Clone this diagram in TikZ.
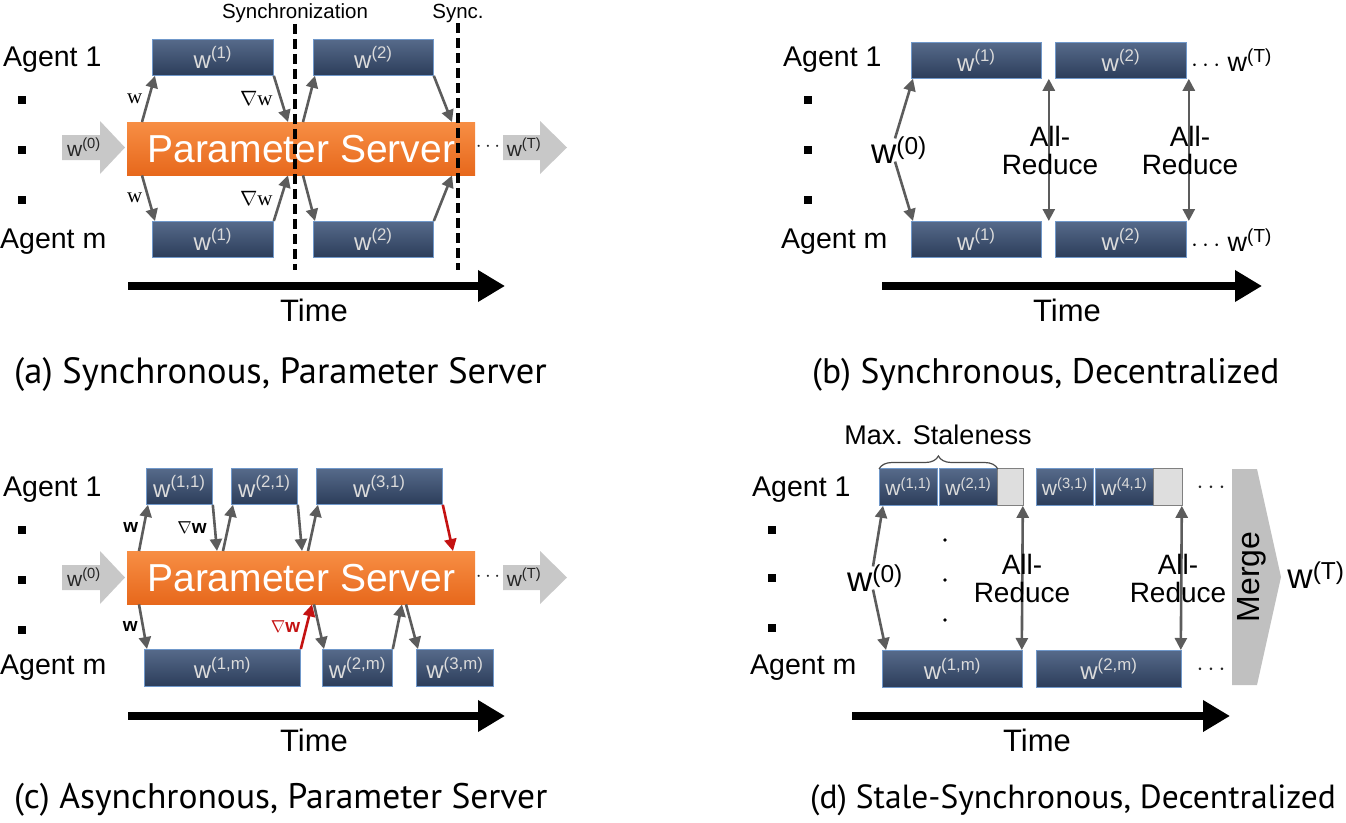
\documentclass[tikz,border=0pt]{standalone}
\usepackage{fontspec}
\setmainfont{Liberation Sans}
\newfontfamily\capfont{PT Sans}
\newfontfamily\gradfont{Liberation Serif}
\usetikzlibrary{arrows.meta,decorations.pathreplacing,positioning}

\definecolor{boxtop}{RGB}{86,106,138}
\definecolor{boxbot}{RGB}{44,61,90}
\definecolor{boxedge}{RGB}{112,152,202}
\definecolor{pstop}{RGB}{247,142,68}
\definecolor{psbot}{RGB}{231,104,28}
\definecolor{flowgray}{RGB}{92,92,92}
\definecolor{flowred}{RGB}{196,18,18}
\definecolor{arrowgray}{RGB}{200,200,200}
\definecolor{stalegray}{RGB}{222,222,222}
\definecolor{mergegray}{RGB}{192,192,192}

\newcommand{\fsz}[1]{\fontsize{#1}{#1}\selectfont}

\tikzset{
  wbox/.style={rectangle, anchor=north west, top color=boxtop, bottom color=boxbot,
    draw=boxedge, line width=0.8pt, text=white!86!black, font=\fsz{24},
    minimum height=36pt, inner sep=0pt},
  server/.style={rectangle, anchor=north west, top color=pstop, bottom color=psbot,
    text=white, font=\fsz{39}, minimum width=348pt, minimum height=53pt, inner sep=0pt},
  stale/.style={rectangle, anchor=north west, fill=stalegray, draw=gray,
    line width=0.8pt, minimum height=37pt, inner sep=0pt},
  agent/.style={anchor=west, font=\fsz{28.5}, inner sep=0pt},
  flow/.style={draw=flowgray, line width=2.6pt, -{Triangle[length=12pt,width=12pt]}},
  redflow/.style={flow, draw=flowred},
  duplex/.style={draw=flowgray, line width=2.6pt,
    {Triangle[length=12pt,width=12pt]}-{Triangle[length=12pt,width=12pt]}},
  timeline/.style={line width=7.5pt, -{Triangle[length=27pt,width=30pt]}},
  tlabel/.style={font=\fsz{31}, inner sep=0pt},
  caption/.style={anchor=west, font=\capfont\fsz{36.5}, inner sep=0pt},
  grad/.style={font=\gradfont\fsz{21}, inner sep=1pt},
  sgrad/.style={font=\bfseries\fsz{19}, inner sep=1pt},
  intext/.style={font=\fsz{21}, text=black!85, inner sep=0pt},
  bigw/.style={font=\fsz{35}, inner sep=0pt},
  reduce/.style={font=\fsz{28}, align=center, inner sep=0pt},
  dashline/.style={line width=3.2pt, dash pattern=on 10pt off 5pt},
}

\begin{document}
\begin{tikzpicture}[x=1pt,y=-1pt]
\useasboundingbox (0,0) rectangle (1346,822);

% (a) synchronous, parameter server
\node[agent] (a1) at (3,60) {Agent 1};
\node[agent] (am) at (0,242) {Agent m};
\foreach \yy in {100,150,200} \fill (18,\yy-4) rectangle ++(8,8);
\fill[arrowgray] (62,135) -- (100,135) -- (100,121) -- (125,147.5) -- (100,174) -- (100,160) -- (62,160) -- cycle;
\node[intext] (w0a) at (84,147) {w\textsuperscript{(0)}};
\node[server] (psa) at (127,122) {Parameter Server};
\node[intext] (dotsa) at (488,147) {$\cdots$};
\fill[arrowgray] (503,135) -- (540,135) -- (540,121) -- (567,147.5) -- (540,174) -- (540,160) -- (503,160) -- cycle;
\node[intext] (wTa) at (524,147) {w\textsuperscript{(T)}};

\node[wbox, minimum width=121pt] (at1) at (152,39) {w\textsuperscript{(1)}};
\node[wbox, minimum width=120pt] (at2) at (313,39) {w\textsuperscript{(2)}};
\node[wbox, minimum width=121pt] (ab1) at (152,221) {w\textsuperscript{(1)}};
\node[wbox, minimum width=120pt] (ab2) at (313,221) {w\textsuperscript{(2)}};

\draw[flow] ([xshift=15pt]psa.north west) -- ([xshift=3pt]at1.south west) node[midway, left=4pt, grad] {w};
\draw[flow] (at1.south east) -- ([xshift=161pt]psa.north west) node[midway, left=6pt, grad] {$\nabla$w};
\draw[flow] ([xshift=176pt]psa.north west) -- ([xshift=2pt]at2.south west);
\draw[flow] (at2.south east) -- ([xshift=325pt]psa.north west);
\draw[flow] ([xshift=15pt]psa.south west) -- ([xshift=3pt]ab1.north west) node[midway, left=4pt, grad] {w};
\draw[flow] (ab1.north east) -- ([xshift=161pt]psa.south west) node[midway, left=6pt, grad] {$\nabla$w};
\draw[flow] ([xshift=176pt]psa.south west) -- ([xshift=2pt]ab2.north west);
\draw[flow] (ab2.north east) -- ([xshift=325pt]psa.south west);

\node[font=\fsz{20.5}, inner sep=1pt] (synca) at (295,13) {Synchronization};
\node[font=\fsz{20.5}, inner sep=1pt] (syncb) at (458,13) {Sync.};
\coordinate (synca end) at (295,270);
\coordinate (syncb end) at (458,270);
\draw[dashline] (synca.south) -- (synca end);
\draw[dashline] (syncb.south) -- (syncb end);

\coordinate (ta0) at (128,286);
\coordinate (ta1) at (505,286);
\draw[timeline] (ta0) -- (ta1);
\node[tlabel] (timea) at (314,310) {Time};
\node[caption] (capa) at (14,375) {(a) Synchronous, Parameter Server};

% (b) synchronous, decentralized
\node[agent] (b1) at (783,60) {Agent 1};
\node[agent] (bm) at (781,242) {Agent m};
\foreach \yy in {100,150,200} \fill (804,\yy-4) rectangle ++(8,8);
\node[wbox, minimum width=130pt] (bt1) at (911,42) {w\textsuperscript{(1)}};
\node[wbox, minimum width=131pt] (bt2) at (1055,42) {w\textsuperscript{(2)}};
\node[wbox, minimum width=130pt] (bb1) at (911,221) {w\textsuperscript{(1)}};
\node[wbox, minimum width=131pt] (bb2) at (1055,221) {w\textsuperscript{(2)}};
\node[anchor=west, font=\fsz{27}, inner sep=0pt] (bTt) at (1191,60) {$\cdots$ w\textsuperscript{(T)}};
\node[anchor=west, font=\fsz{27}, inner sep=0pt] (bTb) at (1191,240) {$\cdots$ w\textsuperscript{(T)}};
\node[bigw] (w0b) at (899,150) {w\textsuperscript{(0)}};
\draw[flow] ([xshift=-4pt,yshift=-2pt]w0b.north) -- ([xshift=2pt]bt1.south west);
\draw[flow] ([xshift=-4pt,yshift=2pt]w0b.south) -- ([xshift=2pt]bb1.north west);
\draw[duplex] ([xshift=7pt]bt1.south east) -- ([xshift=7pt]bb1.north east);
\draw[duplex] ([xshift=2pt]bt2.south east) -- ([xshift=2pt]bb2.north east);
\node[reduce] (arb1) at (1050,150) {All-\\Reduce};
\node[reduce] (arb2) at (1190,150) {All-\\Reduce};
\coordinate (tb0) at (882,286);
\coordinate (tb1) at (1262,286);
\draw[timeline] (tb0) -- (tb1);
\node[tlabel] (timeb) at (1067,310) {Time};
\node[caption, font=\capfont\fsz{35.5}] (capb) at (812,375) {(b) Synchronous, Decentralized};

% (c) asynchronous, parameter server
\node[agent] (c1) at (3,490) {Agent 1};
\node[agent] (cm) at (0,668) {Agent m};
\foreach \yy in {530,580,630} \fill (18,\yy-4) rectangle ++(8,8);
\fill[arrowgray] (62,565) -- (100,565) -- (100,551) -- (125,577.5) -- (100,604) -- (100,590) -- (62,590) -- cycle;
\node[intext] (w0c) at (84,577) {w\textsuperscript{(0)}};
\node[server] (psc) at (127,551) {Parameter Server};
\node[intext] (dotsc) at (488,577) {$\cdots$};
\fill[arrowgray] (503,565) -- (540,565) -- (540,551) -- (567,577.5) -- (540,604) -- (540,590) -- (503,590) -- cycle;
\node[intext] (wTc) at (524,577) {w\textsuperscript{(T)}};

\node[wbox, minimum width=66pt] (ct1) at (146,468) {w\textsuperscript{(1,1)}};
\node[wbox, minimum width=66pt] (ct2) at (231,468) {w\textsuperscript{(2,1)}};
\node[wbox, minimum width=126pt] (ct3) at (316,468) {w\textsuperscript{(3,1)}};
\node[wbox, minimum width=156pt, minimum height=37pt] (cb1) at (144,649) {w\textsuperscript{(1,m)}};
\node[wbox, minimum width=70pt, minimum height=37pt] (cb2) at (322,649) {w\textsuperscript{(2,m)}};
\node[wbox, minimum width=77pt, minimum height=37pt] (cb3) at (416,649) {w\textsuperscript{(3,m)}};

\draw[flow] ([xshift=12pt]psc.north west) -- ([xshift=2pt]ct1.south west) node[midway, left=3pt, sgrad] {w};
\draw[flow] (ct1.south east) -- ([xshift=90pt]psc.north west) node[midway, left=6pt, sgrad] {$\nabla$w};
\draw[flow] ([xshift=96pt]psc.north west) -- ([xshift=2pt]ct2.south west);
\draw[flow] (ct2.south east) -- ([xshift=175pt]psc.north west);
\draw[flow] ([xshift=181pt]psc.north west) -- ([xshift=2pt]ct3.south west);
\draw[redflow] (ct3.south east) -- ([xshift=326pt]psc.north west);
\draw[flow] ([xshift=12pt]psc.south west) -- ([xshift=3pt]cb1.north west) node[midway, left=3pt, sgrad] {w};
\draw[redflow] (cb1.north east) -- ([xshift=185pt]psc.south west) node[midway, left=4pt, sgrad, text=flowred] {$\nabla$w};
\draw[flow] ([xshift=187pt]psc.south west) -- ([xshift=2pt]cb2.north west);
\draw[flow] (cb2.north east) -- ([xshift=275pt]psc.south west);
\draw[flow] ([xshift=279pt]psc.south west) -- ([xshift=2pt]cb3.north west);

\coordinate (tc0) at (128,716);
\coordinate (tc1) at (505,716);
\draw[timeline] (tc0) -- (tc1);
\node[tlabel] (timec) at (314,740) {Time};
\node[caption, font=\capfont\fsz{35.5}] (capc) at (14,800) {(c) Asynchronous, Parameter Server};

% (d) stale-synchronous, decentralized
\node[agent] (d1) at (752,490) {Agent 1};
\node[agent] (dm) at (750,668) {Agent m};
\foreach \yy in {530,578,628} \fill (768,\yy-4) rectangle ++(8,8);
\node[wbox, minimum width=58pt, minimum height=37pt, font=\fsz{21}] (dt1) at (879,468) {w\textsuperscript{(1,1)}};
\node[wbox, minimum width=58pt, minimum height=37pt, font=\fsz{21}] (dt2) at (939,468) {w\textsuperscript{(2,1)}};
\node[stale, minimum width=26pt] (dg1) at (997,468) {};
\node[wbox, minimum width=57pt, minimum height=37pt, font=\fsz{21}] (dt3) at (1036,468) {w\textsuperscript{(3,1)}};
\node[wbox, minimum width=58pt, minimum height=37pt, font=\fsz{21}] (dt4) at (1095,468) {w\textsuperscript{(4,1)}};
\node[stale, minimum width=29pt] (dg2) at (1153,468) {};
\node[wbox, minimum width=140pt, minimum height=37pt] (db1) at (882,650) {w\textsuperscript{(1,m)}};
\node[wbox, minimum width=145pt, minimum height=37pt] (db2) at (1036,650) {w\textsuperscript{(2,m)}};

\draw[decorate, decoration={brace, amplitude=13pt}, line width=1.2pt, black!70]
  ([yshift=-1pt]dt1.north west) -- ([yshift=-1pt]dt2.north east);
\node[font=\fsz{27}, inner sep=0pt] (stale) at (938,435) {Max. Staleness};

\node[intext, font=\fsz{27}] (dotsd1) at (1211,488) {$\cdots$};
\node[intext, font=\fsz{27}] (dotsd2) at (1211,670) {$\cdots$};
\foreach \yy in {540,580,620} \fill (945,\yy) circle (1.8pt);

\node[bigw] (w0d) at (875,578) {w\textsuperscript{(0)}};
\draw[flow] ([xshift=-2pt,yshift=-2pt]w0d.north) -- ([xshift=4pt]dt1.south west);
\draw[flow] ([xshift=-2pt,yshift=2pt]w0d.south) -- ([xshift=4pt]db1.north west);
\draw[duplex] ([xshift=-1pt]dg1.south east) -- ([xshift=-1pt]db1.north east);
\draw[duplex] ([xshift=-1pt]dg2.south east) -- ([xshift=-1pt]db2.north east);
\node[reduce] (ard1) at (1022,578) {All-\\Reduce};
\node[reduce] (ard2) at (1178,578) {All-\\Reduce};

\fill[mergegray] (1232,469) -- (1257,469) -- (1281,577) -- (1257,685) -- (1232,685) -- cycle;
\node[rotate=90, font=\fsz{32}, inner sep=0pt] (merge) at (1252,577) {Merge};
\node[bigw] (wTd) at (1316,575) {w\textsuperscript{(T)}};

\coordinate (td0) at (852,716);
\coordinate (td1) at (1230,716);
\draw[timeline] (td0) -- (td1);
\node[tlabel] (timed) at (1037,740) {Time};
\node[caption, font=\capfont\fsz{33.5}] (capd) at (810,800) {(d) Stale-Synchronous, Decentralized};
\end{tikzpicture}
\end{document}
